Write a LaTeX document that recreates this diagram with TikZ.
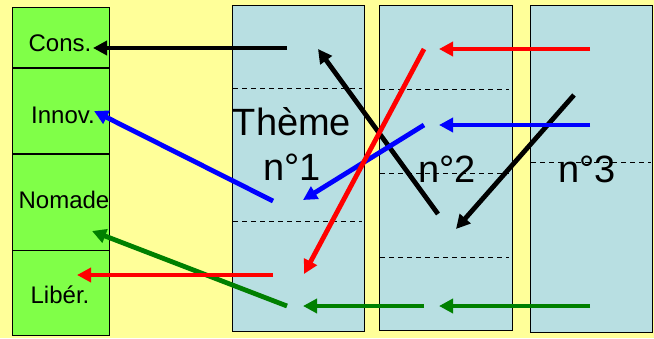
\documentclass[tikz,border=0pt]{standalone}
\usepackage{fontspec}
\setmainfont{Liberation Sans}
\usetikzlibrary{positioning,arrows.meta,calc}
\definecolor{bgyellow}{HTML}{FFFF99}
\definecolor{cellgreen}{HTML}{80FF48}
\definecolor{themeblue}{HTML}{B8DFE2}
\definecolor{linkgreen}{HTML}{008000}

\begin{document}
\begin{tikzpicture}[x=1pt, y=-1pt,
    cell/.style={draw=black, line width=0.8pt, fill=cellgreen, minimum width=97pt, inner sep=0pt},
    theme/.style={draw=black, line width=0.8pt, fill=themeblue, inner sep=0pt, anchor=north west},
    sep/.style={line width=0.8pt, dash pattern=on 5pt off 4pt},
    link/.style={line width=4.8pt, -{Triangle[length=14pt,width=14pt]}},
    lbl/.style={font=\fontsize{24}{28}\selectfont, inner sep=0pt},
    big/.style={font=\fontsize{38}{45}\selectfont, inner sep=0pt, align=center}]
        \fill[bgyellow] (0,0) rectangle (654,338);
        \useasboundingbox (0,0) rectangle (654,338);
        % green column
        \node[cell, minimum height=60pt, anchor=north west] (cons) at (12,7) {};
        \node[cell, minimum height=85pt, below=0pt of cons] (innov) {};
        \node[cell, minimum height=96pt, below=0pt of innov] (nomade) {};
        \node[cell, minimum height=85pt, below=0pt of nomade] (liber) {};
        \node[lbl] (tcons) at (60,43) {Cons.};
        \node[lbl] (tinnov) at (63,115) {Innov.};
        \node[lbl] (tnomade) at (64,200) {Nomade};
        \node[lbl] (tliber) at (60,295) {Libér.};
        % themes
        \node[theme, minimum width=132pt, minimum height=326pt] (th1) at (232,5) {};
        \node[theme, minimum width=133pt, minimum height=325pt] (th2) at (379,5) {};
        \node[theme, minimum width=122pt, minimum height=327pt] (th3) at (530,5) {};
        \node[big] (name1) at (292,144) {Thème\\n°1};
        \node[big] (name2) at (447,169) {n°2};
        \node[big] (name3) at (587,169) {n°3};
        \draw[sep] (233,88) -- (362,88);
        \draw[sep] (233,221) -- (362,221);
        \draw[sep] (380,89) -- (509,89);
        \draw[sep] (380,173) -- (509,173);
        \draw[sep] (380,257) -- (509,257);
        \draw[sep] (531,162) -- (651,162);
        % link ends
        \coordinate (k1a) at (287,48);  \coordinate (k1b) at (93,48);
        \coordinate (k2a) at (438,214); \coordinate (k2b) at (318,49);
        \coordinate (k3a) at (574,95);  \coordinate (k3b) at (456,229);
        \coordinate (b1a) at (590,125); \coordinate (b1b) at (439,125);
        \coordinate (b2a) at (424,125); \coordinate (b2b) at (303,200);
        \coordinate (b3a) at (273,201); \coordinate (b3b) at (94,111);
        \coordinate (g1a) at (590,306); \coordinate (g1b) at (439,306);
        \coordinate (g2a) at (424,306); \coordinate (g2b) at (303,306);
        \coordinate (g3a) at (287,306); \coordinate (g3b) at (92,231);
        \coordinate (r1a) at (590,49);  \coordinate (r1b) at (439,49);
        \coordinate (r2a) at (424,49);  \coordinate (r2b) at (304,274);
        \coordinate (r3a) at (273,275); \coordinate (r3b) at (77,275);
        % links
        \draw[link, black] (k1a) -- (k1b);
        \draw[link, black] (k2a) -- (k2b);
        \draw[link, black] (k3a) -- (k3b);
        \draw[link, blue] (b1a) -- (b1b);
        \draw[link, blue] (b2a) -- (b2b);
        \draw[link, blue] (b3a) -- (b3b);
        \draw[link, linkgreen] (g1a) -- (g1b);
        \draw[link, linkgreen] (g2a) -- (g2b);
        \draw[link, linkgreen] (g3a) -- (g3b);
        \draw[link, red] (r1a) -- (r1b);
        \draw[link, red] (r2a) -- (r2b);
        \draw[link, red] (r3a) -- (r3b);
\end{tikzpicture}
\end{document}
